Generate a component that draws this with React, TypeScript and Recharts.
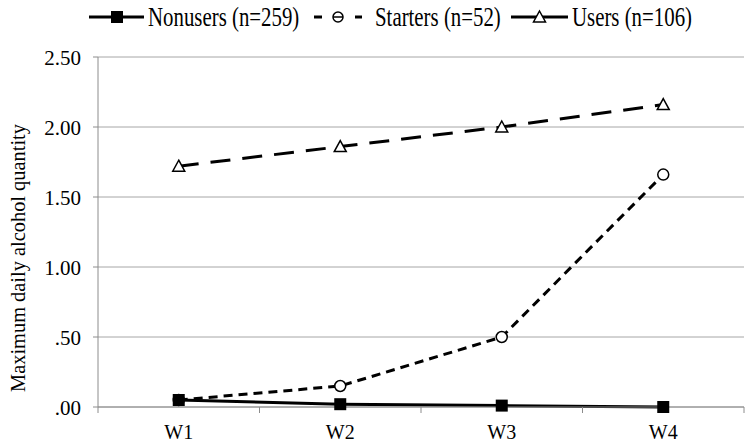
import { CartesianGrid, Line, LineChart, XAxis, YAxis } from "recharts";

const waves = ["W1", "W2", "W3", "W4"];
const nonusers = [0.05, 0.02, 0.01, 0.0];
const starters = [0.05, 0.15, 0.5, 1.66];
const users = [1.72, 1.86, 2.0, 2.16];
const yTicks = [0, 0.5, 1, 1.5, 2, 2.5];

const FONT = "Liberation Serif, serif";
const AXIS = "#8c8c8c";
const GRID = "#a6a6a6";

const rows = waves.map((w, i) => ({
  x: i + 0.5,
  wave: w,
  nonusers: nonusers[i],
  starters: starters[i],
  users: users[i],
}));

const xTicks = [0, 0.5, 1, 1.5, 2, 2.5, 3, 3.5, 4];

const fmtY = (v: number) => v.toFixed(2).replace(/^0/, "");

function XTick(props: any) {
  const { x, y, payload } = props;
  const v = payload.value as number;
  if (Number.isInteger(v)) {
    return <line x1={x} x2={x} y1={y} y2={y + 6} stroke={AXIS} strokeWidth={1} />;
  }
  return (
    <text x={x} y={y + 32} textAnchor="middle" fontSize={20} fontFamily={FONT} fill="#000">
      {waves[Math.floor(v)]}
    </text>
  );
}

function YTick(props: any) {
  const { x, y, payload } = props;
  return (
    <text x={x} y={y} dy={7.5} textAnchor="end" fontSize={21} fontFamily={FONT} fill="#000">
      {fmtY(payload.value)}
    </text>
  );
}

const SquareDot = (props: any) => {
  const { cx, cy, index } = props;
  return <rect key={`sq-${index}`} x={cx - 6} y={cy - 6} width={12} height={12} fill="#000" />;
};

const CircleDot = (props: any) => {
  const { cx, cy, index } = props;
  return <circle key={`ci-${index}`} cx={cx} cy={cy} r={5.5} fill="#fff" stroke="#000" strokeWidth={1.5} />;
};

const TriDot = (props: any) => {
  const { cx, cy, index } = props;
  return (
    <path
      key={`tr-${index}`}
      d={`M${cx},${cy - 6} L${cx + 6},${cy + 5} L${cx - 6},${cy + 5} Z`}
      fill="#fff"
      stroke="#000"
      strokeWidth={1.5}
    />
  );
};

// legend text is set tall and narrow, like the source
const LegendText = ({ x, label }: { x: number; label: string }) => (
  <text transform={`translate(${x},26) scale(0.745,1)`} fontSize={28} fontFamily={FONT} fill="#000">
    {label}
  </text>
);

function ChartLegend() {
  const cy = 17;
  return (
    <svg width={751} height={40} style={{ position: "absolute", left: 0, top: 0 }}>
      <line x1={89} x2={144} y1={cy} y2={cy} stroke="#000" strokeWidth={3} />
      <rect x={111} y={cy - 6} width={12} height={12} fill="#000" />
      <LegendText x={148} label="Nonusers (n=259)" />

      <line x1={314} x2={322} y1={cy} y2={cy} stroke="#000" strokeWidth={3} />
      <circle cx={338} cy={cy} r={5} fill="#fff" stroke="#000" strokeWidth={1.5} />
      <line x1={333} x2={343} y1={cy} y2={cy} stroke="#000" strokeWidth={1.5} />
      <line x1={355} x2={362} y1={cy} y2={cy} stroke="#000" strokeWidth={3} />
      <LegendText x={375} label="Starters (n=52)" />

      <line x1={511} x2={568} y1={cy} y2={cy} stroke="#000" strokeWidth={3} />
      <path d={`M539.5,${cy - 6} L545.5,${cy + 5} L533.5,${cy + 5} Z`} fill="#fff" stroke="#000" strokeWidth={1.5} />
      <LegendText x={572} label="Users (n=106)" />
    </svg>
  );
}

export default function App() {
  return (
    <div
      style={{
        position: "absolute",
        left: 0,
        top: 0,
        width: 751,
        height: 446,
        background: "#fff",
        fontFamily: FONT,
      }}
    >
      <LineChart width={751} height={446} data={rows} margin={{ top: 57, right: 7, left: 0, bottom: 9 }}>
        <CartesianGrid vertical={false} stroke={GRID} strokeWidth={1} />
        <XAxis
          type="number"
          dataKey="x"
          domain={[0, 4]}
          ticks={xTicks}
          interval={0}
          height={30}
          tickLine={false}
          tickSize={0}
          tickMargin={0}
          axisLine={{ stroke: AXIS, strokeWidth: 1 }}
          tick={<XTick />}
        />
        <YAxis
          type="number"
          domain={[0, 2.5]}
          ticks={yTicks}
          width={98}
          tickSize={5}
          tickMargin={12}
          tickLine={{ stroke: AXIS }}
          axisLine={{ stroke: AXIS, strokeWidth: 1 }}
          tick={<YTick />}
          label={() => (
            <text
              x={18}
              y={258}
              transform="rotate(-90, 18, 258)"
              textAnchor="middle"
              dy={7}
              fontSize={20.4}
              fontFamily={FONT}
              fill="#000"
            >
              Maximum daily alcohol quantity
            </text>
          )}
        />
        <Line
          type="linear"
          dataKey="starters"
          stroke="#000"
          strokeWidth={3}
          strokeDasharray="9 6"
          dot={<CircleDot />}
          activeDot={false}
          isAnimationActive={false}
        />
        <Line
          type="linear"
          dataKey="users"
          stroke="#000"
          strokeWidth={3}
          strokeDasharray="20 12"
          dot={<TriDot />}
          activeDot={false}
          isAnimationActive={false}
        />
        <Line
          type="linear"
          dataKey="nonusers"
          stroke="#000"
          strokeWidth={3}
          dot={<SquareDot />}
          activeDot={false}
          isAnimationActive={false}
        />
      </LineChart>
      <ChartLegend />
    </div>
  );
}
